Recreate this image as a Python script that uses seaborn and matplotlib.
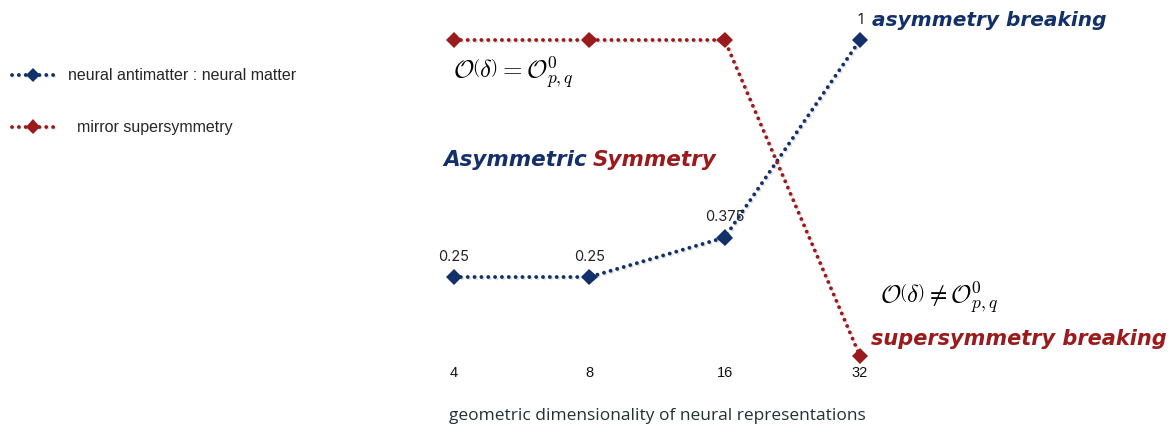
import numpy as np
import pandas as pd
import matplotlib
matplotlib.use('Agg')
import matplotlib.pyplot as plt
import matplotlib.patheffects as pe
import seaborn as sns

dims = ['4', '8', '16', '32']
antimatter_ratio = [0.25, 0.25, 0.375, 1.0]
mirror_susy = [1.0, 1.0, 1.0, 0.0]
point_labels = ['0.25', '0.25', '0.375', '1']

blue = '#14306a'
red = '#9b1a1c'
dots = (0, (0.01, 1.75))

sns.set_style('white')
plt.rcParams['mathtext.fontset'] = 'cm'

fig = plt.figure(figsize=(11.72, 4.33), dpi=100)
W, H = 1172, 433
# axes placed so that index 0..3 -> px 454..860 and value 0..1 -> px 356..40
ax = fig.add_axes([454 / W, (H - 356) / H, (860 - 454) / W, (356 - 40) / H])

df = pd.DataFrame({
    'x': list(range(len(dims))) * 2,
    'y': antimatter_ratio + mirror_susy,
    'serie': ['neural antimatter : neural matter'] * 4 + ['  mirror supersymmetry'] * 4,
})

shadow = [pe.SimpleLineShadow(offset=(1, -1), alpha=0.12), pe.Normal()]
sns.lineplot(data=df, x='x', y='y', hue='serie', palette=[blue, red],
             marker='D', markersize=8.5, markeredgewidth=0, linewidth=2.8,
             ax=ax, legend=True, path_effects=shadow)
for ln in ax.lines:
    ln.set_linestyle(dots)
    ln.set_dash_capstyle('round')
    ln.set_clip_on(False)

ax.set_xlim(0, 3)
ax.set_ylim(0, 1)
ax.axis('off')

# value labels
for i, (v, s) in enumerate(zip(antimatter_ratio, point_labels)):
    ax.text(i, v + 0.064, s, ha='center', va='center', fontsize=10.5,
            family='Inter', color='#222222')

# category labels
for i, d in enumerate(dims):
    ax.text(i, -0.054, d, ha='center', va='center', fontsize=10.5,
            family='Liberation Sans', color='#111111')

ax.text(1.5, -0.19, 'geometric dimensionality of neural representations',
        ha='center', va='center', fontsize=12.5, family='Open Sans',
        color='#1f3330')

# annotations
ax.text(-0.01, 0.895, r'$\mathcal{O}\left(\delta\right)=\mathcal{O}^{0}_{p,q}$',
        ha='left', va='center', fontsize=18, color='black')
ax.text(3.15, 0.184, r'$\mathcal{O}\left(\delta\right)\neq\mathcal{O}^{0}_{p,q}$',
        ha='left', va='center', fontsize=18, color='black')

cur = dict(family='DejaVu Sans', style='oblique', weight='bold')
t1 = ax.text(-0.08, 0.62, 'Asymmetric', ha='left', va='center', color=blue,
             fontsize=15.5, **cur)
ax.annotate('Symmetry', xy=(1, 0.5), xycoords=t1, xytext=(4, 0),
            textcoords='offset points', ha='left', va='center', color=red,
            fontsize=15.5, **cur)
ax.text(3.09, 1.063, 'asymmetry breaking', ha='left', va='center',
        color=blue, fontsize=14.5, **cur)
ax.text(3.08, 0.055, 'supersymmetry breaking', ha='left', va='center',
        color=red, fontsize=15, **cur)

leg = ax.legend(loc='upper left', bbox_to_anchor=(-0.002, (H - 54) / H),
                bbox_transform=fig.transFigure, frameon=False,
                prop={'family': 'Liberation Sans', 'size': 11.5},
                labelspacing=2.3, handlelength=2.6, handletextpad=0.9,
                markerscale=0.85)
for h in leg.get_lines():
    h.set_linestyle(dots)
    h.set_dash_capstyle('round')
    h.set_linewidth(2.8)

fig.savefig('out.png', dpi=100)
